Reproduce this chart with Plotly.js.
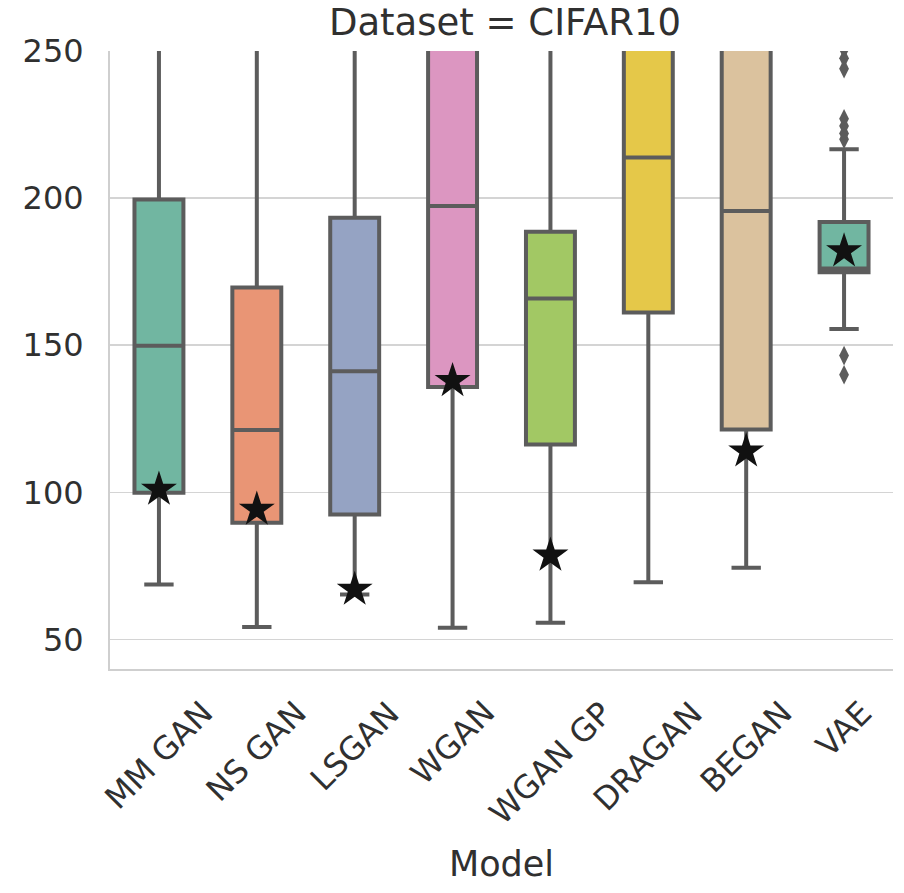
<!DOCTYPE html>
<html><head><meta charset="utf-8">
<script src="https://cdn.plot.ly/plotly-3.0.1.min.js"></script>
<style>html,body{margin:0;padding:0;background:#fff}#chart{width:904px;height:893px}</style>
</head><body><div id="chart"></div>
<script>
// ---- data ----
const models = ["MM GAN", "NS GAN", "LSGAN", "WGAN", "WGAN GP", "DRAGAN", "BEGAN", "VAE"];
const q1Values = [99.9, 89.7, 92.5, 135.8, 116.3, 161.1, 121.4, 174.8];
const medianValues = [149.8, 121.2, 141.2, 197.3, 165.9, 213.8, 195.6, 176.1];
const q3Values = [199.5, 169.6, 193.3, 262, 188.6, 268, 265, 191.9];
const lowerWhiskers = [68.7, 54.3, 65.3, 54.0, 55.7, 69.5, 74.4, 155.5];
const upperWhiskers = [300, 300, 300, 330, 300, 330, 330, 216.6];
const bestScores = [101, 94.2, 67, 137.9, 78.6, null, 114, 182];
const outlierModels = ["VAE", "VAE", "VAE", "VAE", "VAE", "VAE", "VAE", "VAE", "VAE"];
const outlierValues = [250.5, 247.5, 244, 227, 224.5, 222, 220, 146.5, 140];
const yTicks = [50, 100, 150, 200, 250];

// ---- styles ----
const palette = ["#71b6a1", "#e99575", "#95a3c3", "#dc96c1", "#a2c864", "#e5c849", "#dbc29e", "#71b6a1"];
const lineGrey = "#5c5c5c";
const textColor = "#303030";
const fontFamily = "DejaVu Sans, sans-serif";

const traces = models.map((m, i) => ({
  type: "box",
  name: m,
  x: [m],
  q1: [q1Values[i]],
  median: [medianValues[i]],
  q3: [q3Values[i]],
  lowerfence: [lowerWhiskers[i]],
  upperfence: [upperWhiskers[i]],
  boxpoints: false,
  width: 0.5,
  whiskerwidth: 0.6,
  fillcolor: palette[i],
  line: {color: lineGrey, width: 4},
  showlegend: false,
  hoverinfo: "skip"
}));

traces.push({
  type: "scatter", mode: "markers",
  x: outlierModels, y: outlierValues,
  marker: {symbol: "diamond-tall", size: 14, color: lineGrey},
  showlegend: false, hoverinfo: "skip"
});

traces.push({
  type: "scatter", mode: "markers",
  x: models, y: bestScores,
  marker: {symbol: "star", size: 27, color: "#111111", line: {width: 0}},
  showlegend: false, hoverinfo: "skip"
});

const labelAnnotations = models.map(m => ({
  x: m, xref: "x", y: 0, yref: "paper", yshift: -22,
  xanchor: "center", yanchor: "top", textangle: -45, showarrow: false,
  text: m, font: {family: fontFamily, size: 32, color: textColor}
}));

const layout = {
  width: 904, height: 893,
  margin: {l: 110, r: 11, t: 51, b: 224, pad: 0},
  paper_bgcolor: "#ffffff", plot_bgcolor: "#ffffff",
  font: {family: fontFamily, color: textColor},
  title: {
    text: "Dataset = CIFAR10",
    font: {family: fontFamily, size: 37, color: textColor},
    x: 0.5045, xref: "paper", xanchor: "center",
    y: 1 - 22 / 893, yref: "container", yanchor: "middle"
  },
  xaxis: {
    type: "category", categoryorder: "array", categoryarray: models,
    range: [-0.5, 7.5],
    showticklabels: false, ticks: "",
    showgrid: false, zeroline: false,
    showline: true, linecolor: "#cfcfcf", linewidth: 2,
    title: {text: "Model", font: {family: fontFamily, size: 35, color: textColor}, standoff: 181}
  },
  yaxis: {
    range: [40, 250], tickvals: yTicks, ticktext: yTicks.map(String),
    ticks: "", ticklabelstandoff: 18,
    tickfont: {family: fontFamily, size: 32, color: textColor},
    showgrid: true, gridcolor: "#d4d4d4", gridwidth: 1.6,
    zeroline: false, showline: true, linecolor: "#cfcfcf", linewidth: 2
  },
  boxmode: "overlay",
  annotations: labelAnnotations
};

Plotly.newPlot("chart", traces, layout, {staticPlot: true, displayModeBar: false});
</script>
</body></html>
